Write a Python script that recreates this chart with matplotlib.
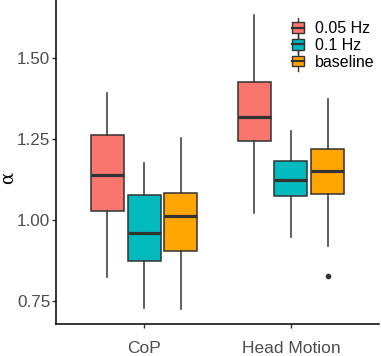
import matplotlib
matplotlib.use('Agg')
import matplotlib.pyplot as plt
from matplotlib.legend_handler import HandlerBase
from matplotlib.patches import Rectangle
from matplotlib.lines import Line2D

plt.rcParams['font.family'] = ['Liberation Sans', 'DejaVu Sans']

categories = ['CoP', 'Head Motion']
groups = ['0.05 Hz', '0.1 Hz', 'baseline']
colors = ['#F8766D', '#00BABD', '#FFA500']

# values per group, per category [CoP, Head Motion]
whisker_low = {'0.05 Hz': [0.824, 1.021], '0.1 Hz': [0.727, 0.946], 'baseline': [0.724, 0.919]}
q1 = {'0.05 Hz': [1.028, 1.245], '0.1 Hz': [0.874, 1.075], 'baseline': [0.905, 1.081]}
median = {'0.05 Hz': [1.139, 1.320], '0.1 Hz': [0.961, 1.124], 'baseline': [1.012, 1.153]}
q3 = {'0.05 Hz': [1.263, 1.426], '0.1 Hz': [1.078, 1.184], 'baseline': [1.083, 1.221]}
whisker_high = {'0.05 Hz': [1.394, 1.634], '0.1 Hz': [1.177, 1.277], 'baseline': [1.255, 1.375]}
outliers = {'0.05 Hz': [[], []], '0.1 Hz': [[], []], 'baseline': [[], [0.827]]}

yticks = [0.75, 1.00, 1.25, 1.50]
ytick_labels = ['0.75', '1.00', '1.25', '1.50']

edge = '#333333'
fig = plt.figure(figsize=(3.81, 3.56), dpi=100)
ax = fig.add_axes([56/381, 32/356, 323/381, 324/356])

dodge = 0.25
bw = 0.225
for gi, g in enumerate(groups):
    stats = []
    pos = []
    for ci, c in enumerate(categories):
        stats.append(dict(whislo=whisker_low[g][ci], q1=q1[g][ci], med=median[g][ci],
                          q3=q3[g][ci], whishi=whisker_high[g][ci], fliers=outliers[g][ci]))
        pos.append(ci + 1 + (gi - 1) * dodge)
    ax.bxp(stats, positions=pos, widths=bw, showcaps=False, patch_artist=True,
           boxprops=dict(facecolor=colors[gi], edgecolor=edge, linewidth=1.1),
           medianprops=dict(color=edge, linewidth=2.3, solid_capstyle='butt'),
           whiskerprops=dict(color=edge, linewidth=1.1),
           flierprops=dict(marker='o', markersize=3, markerfacecolor=edge, markeredgecolor=edge))

ax.set_xlim(0.4, 2.6)
ax.set_ylim(0.678, 1.681)
ax.set_xticks([1, 2])
ax.set_xticklabels(categories)
ax.set_yticks(yticks)
ax.set_yticklabels(ytick_labels)
fig.text(8/381, 1 - 178/356, 'α', rotation=90, fontsize=13, ha='center', va='center', color='black',
         family=['DejaVu Serif', 'DejaVu Sans'])
for s in ['top', 'right']:
    ax.spines[s].set_visible(False)
for s in ['left', 'bottom']:
    ax.spines[s].set_linewidth(1.1)
    ax.spines[s].set_color('black')
ax.tick_params(axis='both', length=3, width=1.0, color='#333333', labelcolor='#4D4D4D', labelsize=12.3, pad=1.2)
ax.tick_params(axis='x', labelsize=12.5, pad=9)


class BoxHandler(HandlerBase):
    def __init__(self, color):
        super().__init__()
        self.color = color

    def create_artists(self, legend, orig_handle, xdescent, ydescent, width, height, fontsize, trans):
        cx = -xdescent + width / 2
        cy = -ydescent + height / 2
        bwid = width * 0.85
        bh = height * 0.8
        ln = Line2D([cx, cx], [cy - height * 0.75, cy + height * 0.75], color=edge, lw=1.0, transform=trans)
        r = Rectangle((cx - bwid / 2, cy - bh / 2), bwid, bh, facecolor=self.color, edgecolor=edge, lw=1.0, transform=trans)
        m = Line2D([cx - bwid / 2, cx + bwid / 2], [cy, cy], color=edge, lw=1.6, transform=trans)
        return [ln, r, m]


handles = [Rectangle((0, 0), 1, 1) for _ in groups]
hmap = {h: BoxHandler(c) for h, c in zip(handles, colors)}
leg = ax.legend(handles, groups, handler_map=hmap, loc='upper left',
                bbox_to_anchor=(291/381, 1 - 21/356), bbox_transform=fig.transFigure,
                frameon=False, fontsize=11.5, handlelength=0.85, handleheight=0.9,
                handletextpad=0.65, labelspacing=0.1, borderpad=0, borderaxespad=0)

fig.savefig('out.png', dpi=100)
